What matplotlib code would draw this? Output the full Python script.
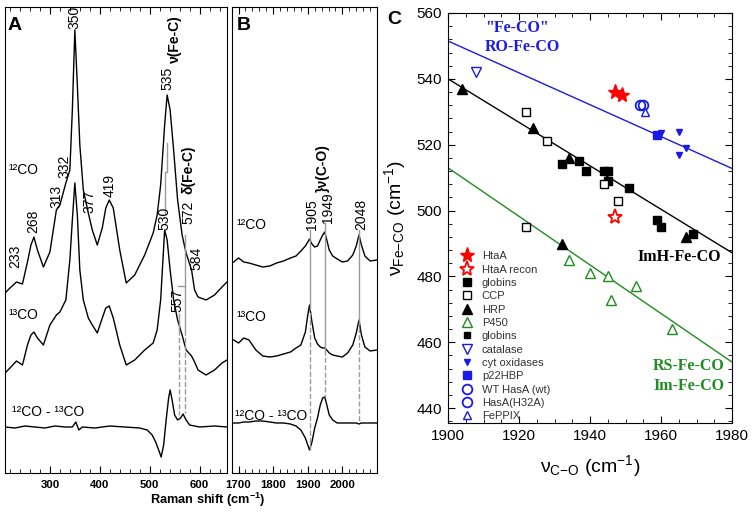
import matplotlib.pyplot as plt
from matplotlib.ticker import MultipleLocator

plt.rcParams['font.family'] = ['Liberation Sans', 'DejaVu Sans']
plt.rcParams['mathtext.fontset'] = 'custom'
plt.rcParams['mathtext.rm'] = 'Liberation Sans'
plt.rcParams['mathtext.it'] = 'Liberation Sans:italic'
plt.rcParams['mathtext.bf'] = 'Liberation Sans:bold'

# panel A: low frequency region (arb. intensity)
shift_a = [210, 220, 233, 245, 255, 262, 268, 275, 287, 300, 313, 320, 332, 340, 345, 350, 355, 360,
           367, 377, 385, 395, 405, 412, 419, 427, 440, 453, 470, 490, 507, 515, 522, 530, 535, 541,
           548, 556, 565, 573, 584, 590, 597, 613, 630, 645, 655]
co12_a = [180, 185, 191, 189, 211, 228, 236, 223, 206, 221, 263, 268, 290, 303, 363, 443, 388, 328,
          283, 260, 243, 228, 245, 265, 273, 265, 223, 190, 198, 218, 240, 258, 288, 348, 378, 363,
          323, 273, 238, 220, 203, 183, 176, 173, 178, 186, 191]
co13_a = [100, 105, 112, 108, 128, 138, 141, 135, 128, 148, 158, 161, 173, 213, 253, 290, 258, 203,
          173, 155, 148, 140, 155, 165, 167, 155, 128, 108, 113, 123, 130, 143, 173, 243, 233, 203,
          173, 153, 138, 123, 117, 111, 103, 98, 103, 110, 113]
diff_shift_a = [210, 230, 250, 270, 290, 310, 330, 345, 352, 358, 365, 390, 420, 450, 480, 495, 505,
                512, 518, 523, 528, 533, 538, 541, 545, 550, 556, 562, 567, 573, 580, 600, 630, 655]
diff_a = [46, 45, 47, 46, 45, 47, 46, 46, 51, 43, 46, 45, 47, 46, 45, 43, 38, 31, 23, 16, 28, 53,
          75, 83, 73, 58, 53, 55, 59, 53, 48, 46, 47, 46]

# panel B: C-O stretching region
shift_b = [1686, 1700, 1715, 1730, 1750, 1770, 1790, 1810, 1830, 1850, 1866, 1880, 1893, 1900, 1905,
           1912, 1920, 1928, 1936, 1943, 1949, 1955, 1962, 1972, 1985, 2000, 2015, 2030, 2040, 2048,
           2055, 2065, 2080, 2100]
co12_b = [211, 215, 211, 210, 208, 206, 207, 210, 212, 215, 217, 222, 227, 231, 234, 229, 226, 227,
          233, 238, 241, 233, 223, 217, 214, 211, 212, 218, 227, 238, 228, 217, 212, 213]
co13_b = [133, 130, 135, 133, 123, 117, 116, 117, 119, 121, 125, 128, 141, 158, 168, 151, 135, 129,
          126, 125, 125, 123, 120, 118, 117, 116, 120, 128, 140, 153, 138, 126, 122, 123]
diff_b = [50, 50, 51, 51, 52, 52, 51, 50, 50, 49, 47, 43, 35, 28, 23, 31, 45, 55, 68, 75, 76, 68,
          58, 53, 50, 50, 50, 50, 50, 49, 50, 50, 50, 50]

# panel C: Fe-CO vs C-O correlation
htaa_x, htaa_y = [1947, 1949], [536, 535]
recon_x, recon_y = [1947], [498]
globin_x = [1932, 1937, 1939, 1944, 1945, 1945, 1951, 1959, 1960, 1969]
globin_y = [514, 515, 512, 512, 512, 509, 507, 497, 495, 493]
ccp_x, ccp_y = [1922, 1928, 1944, 1948, 1922], [530, 521, 508, 503, 495]
hrp_x, hrp_y = [1904, 1924, 1934, 1967, 1932], [537, 525, 516, 492, 490]
p450_x = [1934, 1940, 1945, 1953, 1946, 1963]
p450_y = [485, 481, 480, 477, 473, 464]
globin2_x, globin2_y = [], []
catalase_x, catalase_y = [1908], [542]
cytox_x, cytox_y = [1960, 1965, 1967, 1965], [523.5, 524, 519, 517]
p22_x, p22_y = [1959], [523]
wt_x, wt_y = [1954], [532]
h32a_x, h32a_y = [1955], [532]
feppix_x, feppix_y = [1955.5], [530]
fit_x = [1900, 1980]
ro_fit = [551.5, 512.8]
imh_fit = [540, 487.2]
rs_fit = [513, 454]

blue = '#1a1ae6'
green = '#1f8c1f'
gray = '#9a9a9a'

fig = plt.figure(figsize=(7.54, 5.12), dpi=100)
ax_a = fig.add_axes([5/754, 39/512, 222/754, 466/512])
ax_b = fig.add_axes([232/754, 39/512, 145/754, 466/512])
ax_c = fig.add_axes([448/754, 89/512, 284/754, 410/512])


def spectrum_axes(ax, lo, hi, ticks):
    ax.set_xlim(lo, hi)
    ax.set_ylim(0, 466)
    ax.set_yticks([])
    ax.set_xticks(ticks)
    ax.xaxis.set_minor_locator(MultipleLocator(20))
    ax.tick_params(axis='x', which='both', direction='in', top=True, pad=5)
    ax.tick_params(axis='x', which='major', length=5)
    ax.tick_params(axis='x', which='minor', length=3)
    for lab in ax.get_xticklabels():
        lab.set_fontweight('bold')
        lab.set_fontsize(8.2)


def peak(ax, x, y, s, bold=False):
    ax.text(x, y, s, rotation=90, ha='center', va='bottom', fontsize=10,
            fontweight='bold' if bold else 'normal')


# ---- A ----
ax_a.plot(shift_a, co12_a, color='black', lw=1)
ax_a.plot(shift_a, co13_a, color='black', lw=1)
ax_a.plot(diff_shift_a, diff_a, color='black', lw=1)
spectrum_axes(ax_a, 210, 655, [300, 400, 500, 600])

ax_a.plot([530, 530, 535, 535], [260, 301, 301, 330], color=gray, lw=1)
ax_a.plot([571, 571], [238, 143], color=gray, lw=1)
ax_a.plot([557, 571], [187, 187], color=gray, lw=1)
ax_a.plot([559, 559], [159, 143], color=gray, lw=1)
ax_a.plot([571, 571], [143, 60], color=gray, lw=1, ls='--')
ax_a.plot([559, 559], [143, 58], color=gray, lw=1, ls='--')

peak(ax_a, 350, 444, '350')
peak(ax_a, 536, 383, '535')
peak(ax_a, 550, 410, 'ν(Fe-C)', bold=True)
peak(ax_a, 330, 295, '332')
peak(ax_a, 314, 265, '313')
peak(ax_a, 266, 240, '268')
peak(ax_a, 380, 260, '377')
peak(ax_a, 420, 276, '419')
peak(ax_a, 230, 205, '233')
peak(ax_a, 530, 243, '530')
peak(ax_a, 577, 249, '572')
peak(ax_a, 577, 279, 'δ(Fe-C)', bold=True)
peak(ax_a, 594, 203, '584')
peak(ax_a, 555, 161, '557')
ax_a.text(216, 303, '¹²CO', fontsize=10, va='center')
ax_a.text(216, 158, '¹³CO', fontsize=10, va='center')
ax_a.text(224, 61, '¹²CO - ¹³CO', fontsize=10, va='center')
ax_a.text(216, 448, 'A', fontsize=14, fontweight='bold', va='center')

# ---- B ----
ax_b.plot(shift_b, co12_b, color='black', lw=1)
ax_b.plot(shift_b, co13_b, color='black', lw=1)
ax_b.plot(shift_b, diff_b, color='black', lw=1)
spectrum_axes(ax_b, 1681, 2100, [1700, 1800, 1900, 2000])

for x, top, mid, bot in [(1905, 243, 168, 23), (1949, 250, 123, 76), (2048, 243, 153, 50)]:
    ax_b.plot([x, x], [top, mid], color=gray, lw=1)
    ax_b.plot([x, x], [mid, bot], color=gray, lw=1, ls='--')

peak(ax_b, 1913, 243, '1905')
peak(ax_b, 1959, 250, '1949')
peak(ax_b, 2055, 243, '2048')
peak(ax_b, 1942, 281, '}ν(C-O)', bold=True)
ax_b.text(1693, 248, '¹²CO', fontsize=10, va='center')
ax_b.text(1693, 156, '¹³CO', fontsize=10, va='center')
ax_b.text(1690, 57, '¹²CO - ¹³CO', fontsize=10, va='center')
ax_b.text(1695, 448, 'B', fontsize=14, fontweight='bold', va='center')

fig.text(208/754, 1 - 500/512, 'Raman shift (cm$^{\\mathbf{-1}}$)', ha='center', va='center',
         fontsize=9.2, fontweight='bold')

# ---- C ----
ax_c.plot(fit_x, ro_fit, color=blue, lw=1)
ax_c.plot(fit_x, imh_fit, color='black', lw=1)
ax_c.plot(fit_x, rs_fit, color=green, lw=1)

ax_c.plot(htaa_x, htaa_y, '*', color='red', ms=11, ls='none', label='HtaA')
ax_c.plot(recon_x, recon_y, '*', mfc='white', mec='red', mew=1.3, ms=11, ls='none', label='HtaA recon')
ax_c.plot(globin_x, globin_y, 's', color='black', ms=6, ls='none', label='globins')
ax_c.plot(ccp_x, ccp_y, 's', mfc='white', mec='black', mew=1, ms=6, ls='none', label='CCP')
ax_c.plot(hrp_x, hrp_y, '^', color='black', ms=7, ls='none', label='HRP')
ax_c.plot(p450_x, p450_y, '^', mfc='white', mec=green, mew=1, ms=7, ls='none', label='P450')
ax_c.plot(globin2_x, globin2_y, 's', color='black', ms=4, ls='none', label='globins')
ax_c.plot(catalase_x, catalase_y, 'v', mfc='white', mec=blue, mew=1, ms=7, ls='none', label='catalase')
ax_c.plot(cytox_x, cytox_y, 'v', color=blue, ms=5, ls='none', label='cyt oxidases')
ax_c.plot(p22_x, p22_y, 's', color=blue, ms=6, ls='none', label='p22HBP')
ax_c.plot(wt_x, wt_y, 'o', mfc='none', mec=blue, mew=1.3, ms=7, ls='none', label='WT HasA (wt)')
ax_c.plot(h32a_x, h32a_y, 'o', mfc='none', mec=blue, mew=1.3, ms=7, ls='none', label='HasA(H32A)')
ax_c.plot(feppix_x, feppix_y, '^', mfc='white', mec=blue, mew=1, ms=6, ls='none', label='FePPIX')

ax_c.legend(loc='lower left', bbox_to_anchor=(0.0486, 0.004), frameon=False, fontsize=8,
            borderpad=0, borderaxespad=0, handlelength=1.0, handletextpad=0.8,
            labelspacing=0.3, labelcolor='#333333')

ax_c.set_xlim(1900, 1980)
ax_c.set_ylim(435.5, 560)
ax_c.xaxis.set_major_locator(MultipleLocator(20))
ax_c.xaxis.set_minor_locator(MultipleLocator(5))
ax_c.yaxis.set_major_locator(MultipleLocator(20))
ax_c.yaxis.set_minor_locator(MultipleLocator(4))
ax_c.tick_params(which='both', direction='in', top=True, right=True, labelsize=11, pad=4.5)
ax_c.tick_params(which='major', length=5)
ax_c.tick_params(which='minor', length=3)
ax_c.set_xlabel('ν$_{\\mathregular{C{-}O}}$ (cm$^{\\mathregular{-1}}$)', fontsize=14, labelpad=7)
ax_c.set_ylabel('ν$_{\\mathregular{Fe{-}CO}}$ (cm$^{\\mathregular{-1}}$)', fontsize=14, labelpad=6)

serif = ['Liberation Serif', 'DejaVu Serif']
ax_c.text(1910.4, 555.5, '"Fe-CO"', color=blue, fontsize=11.5, fontweight='bold', family=serif, va='center')
ax_c.text(1910.4, 549.7, 'RO-Fe-CO', color=blue, fontsize=11.5, fontweight='bold', family=serif, va='center')
ax_c.text(1977, 485.8, 'ImH-Fe-CO', color='black', fontsize=11.5, fontweight='bold', family=serif,
          va='center', ha='right')
ax_c.text(1978, 452.7, 'RS-Fe-CO', color=green, fontsize=11.5, fontweight='bold', family=serif,
          va='center', ha='right')
ax_c.text(1978, 446.7, 'Im-Fe-CO', color=green, fontsize=11.5, fontweight='bold', family=serif,
          va='center', ha='right')
fig.text(387/754, 1 - 20/512, 'C', fontsize=14, fontweight='bold', va='center')

fig.savefig('out.png', dpi=100)
